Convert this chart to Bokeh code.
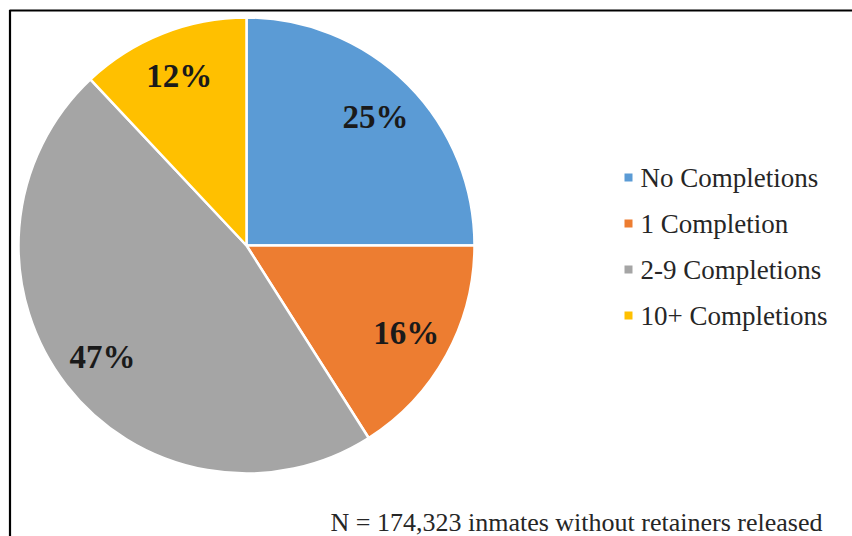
import numpy as np
from bokeh.plotting import figure
from bokeh.models import Range1d
from bokeh.embed import file_html
from bokeh.resources import INLINE
from bokeh.core.properties import value

categories = ["No Completions", "1 Completion", "2-9 Completions", "10+ Completions"]
percents = [25, 16, 47, 12]
colors = ["#5B9BD5", "#ED7D31", "#A5A5A5", "#FFC000"]
note = "N = 174,323 inmates without retainers released"

FONT = "Liberation Serif"
W, H = 852, 536
p = figure(width=W, height=H, output_backend="svg", toolbar_location=None,
           x_range=Range1d(0, W), y_range=Range1d(0, H), min_border=0)
p.axis.visible = False
p.grid.visible = False
p.outline_line_color = None
p.background_fill_color = "white"
p.border_fill_color = "white"

# frame lines (top and left, as in the cropped reference)
p.segment(x0=[9, 9.5], y0=[526, 526.5], x1=[W, 9.5], y1=[526, 0], line_color="black", line_width=2.2)

cx, cy, r = 246, 291, 228
frac = np.array(percents, dtype=float) / sum(percents)
cum = np.cumsum(frac)
beg = cum - frac
start_angle = np.pi / 2 - cum * 2 * np.pi
end_angle = np.pi / 2 - beg * 2 * np.pi
p.wedge(x=[cx] * 4, y=[cy] * 4, radius=r, start_angle=list(start_angle), end_angle=list(end_angle),
        fill_color=colors, line_color="white", line_width=2.5)

mid = np.pi / 2 - (beg + cum) / 2 * 2 * np.pi
lx = cx + 0.8 * r * np.cos(mid)
ly = cy + 0.8 * r * np.sin(mid)
p.text(x=list(lx), y=list(ly), text=[f"{v}%" for v in percents], text_align="center",
       text_baseline="middle", text_font=value(FONT), text_font_size="33px",
       text_font_style="bold", text_color="#1a1a1a")

# legend
ly0, dy = 359, 46
rows = [ly0 - i * dy for i in range(len(categories))]
p.rect(x=[628] * 4, y=rows, width=8, height=8, fill_color=colors, line_color=None)
p.text(x=[640] * 4, y=rows, text=categories, text_align="left", text_baseline="middle",
       text_font=value(FONT), text_font_size="27px", text_color="#262626")

p.text(x=[330], y=[14], text=[note], text_align="left", text_baseline="alphabetic",
       text_font=value(FONT), text_font_size="26px", text_color="#262626")

open("out.html", "w").write(file_html(p, INLINE))
